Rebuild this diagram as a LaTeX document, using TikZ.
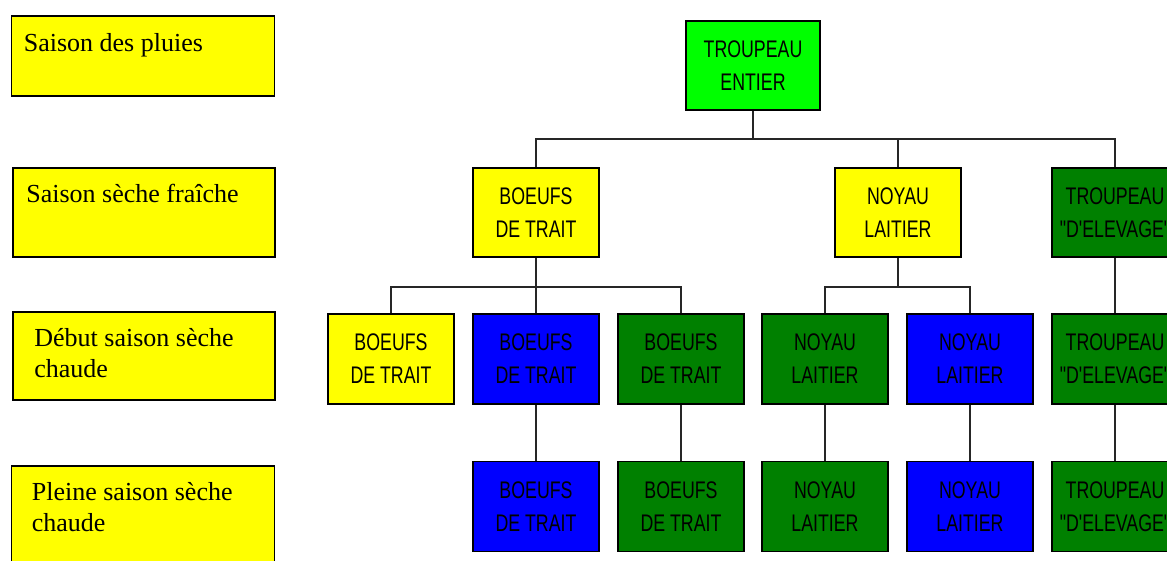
\documentclass[tikz,border=0pt]{standalone}
\usepackage{fontspec}
\setmainfont{Liberation Serif}
\newfontfamily\etroit[FakeStretch=0.74, Ligatures=TeXOff]{Liberation Sans}
\usetikzlibrary{positioning}
\definecolor{jaune}{RGB}{255,255,0}
\definecolor{vertclair}{RGB}{0,255,0}
\definecolor{vertfonce}{RGB}{0,128,0}
\definecolor{bleu}{RGB}{0,0,255}
\tikzstyle{saison} = [draw=black, fill=jaune, line width=1.7pt, rectangle, minimum width=263, minimum height=88]
\tikzstyle{saisontexte} = [anchor=north west, align=left, inner sep=0pt, font=\fontsize{26}{31}\selectfont]
\tikzstyle{troupeau} = [draw=black, line width=1.7pt, rectangle, align=center, minimum width=126, minimum height=90, inner sep=0pt, font=\etroit\fontsize{24}{33}\selectfont]
\tikzstyle{lien} = [line width=1.6pt, draw=black!85]

\begin{document}
\begin{tikzpicture}[x=1pt, y=-1pt]
	\clip (0,0) rectangle (1167,560);
	\fill[white] (0,0) rectangle (1167,560);
	% colonne des saisons
	\node [saison, minimum height=80] (pluies) at (143,56) {};
	\node [saison, minimum height=89, minimum width=262] (fraiche) at (144,212.5) {};
	\node [saison, minimum width=262] (debut) at (144,356) {};
	\node [saison, minimum height=100] (pleine) at (143,516) {};
	\node [saisontexte, xshift=13pt, yshift=-18pt] at (pluies.north west) {Saison des pluies};
	\node [saisontexte, xshift=14pt, yshift=-17pt] at (fraiche.north west) {Saison sèche fraîche};
	\node [saisontexte, xshift=22pt, yshift=-17pt] at (debut.north west) {Début saison sèche\\chaude};
	\node [saisontexte, xshift=21pt, yshift=-17pt] at (pleine.north west) {Pleine saison sèche\\chaude};
	% arbre du troupeau
	\node [troupeau, fill=vertclair, minimum width=134, minimum height=89] (entier) at (753,65.5) {TROUPEAU\\ENTIER};
	\node [troupeau, fill=jaune, minimum height=89] (boeufs) at (536,212.5) {BOEUFS\\DE TRAIT};
	\node [troupeau, fill=jaune, minimum height=89] (noyau) at (898,212.5) {NOYAU\\LAITIER};
	\node [troupeau, fill=vertfonce, minimum height=89] (elevage) at (1115,212.5) {TROUPEAU\\"D'ELEVAGE"};
	\node [troupeau, fill=jaune] (bt1) at (391,359) {BOEUFS\\DE TRAIT};
	\node [troupeau, fill=bleu] (bt2) at (536,359) {BOEUFS\\DE TRAIT};
	\node [troupeau, fill=vertfonce] (bt3) at (681,359) {BOEUFS\\DE TRAIT};
	\node [troupeau, fill=vertfonce] (nl1) at (825,359) {NOYAU\\LAITIER};
	\node [troupeau, fill=bleu] (nl2) at (970,359) {NOYAU\\LAITIER};
	\node [troupeau, fill=vertfonce] (te1) at (1115,359) {TROUPEAU\\"D'ELEVAGE"};
	\node [troupeau, fill=bleu] (bt4) at (536,506.5) {BOEUFS\\DE TRAIT};
	\node [troupeau, fill=vertfonce] (bt5) at (681,506.5) {BOEUFS\\DE TRAIT};
	\node [troupeau, fill=vertfonce] (nl3) at (825,506.5) {NOYAU\\LAITIER};
	\node [troupeau, fill=bleu] (nl4) at (970,506.5) {NOYAU\\LAITIER};
	\node [troupeau, fill=vertfonce] (te2) at (1115,506.5) {TROUPEAU\\"D'ELEVAGE"};
	% liaisons
	\foreach \enfant in {boeufs, noyau, elevage}
		\draw [lien] (entier.south) -- ++(0,28) -| (\enfant.north);
	\foreach \enfant in {bt1, bt2, bt3}
		\draw [lien] (boeufs.south) -- ++(0,29) -| (\enfant.north);
	\foreach \enfant in {nl1, nl2}
		\draw [lien] (noyau.south) -- ++(0,29) -| (\enfant.north);
	\foreach \haut/\bas in {elevage/te1, bt2/bt4, bt3/bt5, nl1/nl3, nl2/nl4, te1/te2}
		\draw [lien] (\haut.south) -- (\bas.north);
\end{tikzpicture}
\end{document}
